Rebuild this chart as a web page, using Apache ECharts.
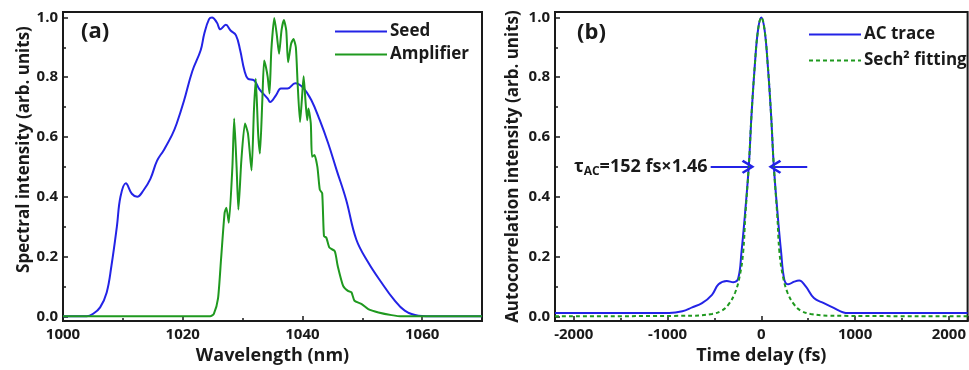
<!DOCTYPE html>
<html>
<head>
<meta charset="utf-8">
<script src="https://cdn.jsdelivr.net/npm/echarts@6/dist/echarts.min.js"></script>
<style>
  html, body { margin: 0; padding: 0; background: #fff; }
  #main { width: 969px; height: 370px; }
</style>
</head>
<body>
<div id="main"></div>
<script>
// (a) spectra, [wavelength nm, intensity]
const seedData = [
  [1000, 0], [1004, 0], [1005, 0.008], [1006.2, 0.03], [1007.3, 0.08], [1008.1, 0.17],
  [1009, 0.3], [1009.6, 0.4], [1010.5, 0.445], [1011.5, 0.41], [1012.4, 0.4],
  [1013.4, 0.42], [1014.6, 0.46], [1015.7, 0.52], [1016.8, 0.555], [1018.2, 0.606],
  [1019, 0.645], [1020.2, 0.72], [1021.6, 0.82], [1023, 0.89], [1023.6, 0.945],
  [1024.4, 0.994], [1024.9, 1.0], [1025.7, 0.983], [1026.3, 0.96], [1027.2, 0.975],
  [1028, 0.956], [1028.9, 0.94], [1029.6, 0.89], [1030.3, 0.823], [1030.9, 0.795],
  [1031.9, 0.79], [1032.8, 0.76], [1034.2, 0.728], [1034.6, 0.717], [1035.6, 0.74],
  [1036.4, 0.762], [1037.5, 0.762], [1038.8, 0.78], [1040.1, 0.765], [1041.5, 0.723],
  [1042.9, 0.656], [1044.3, 0.579], [1045.7, 0.49], [1047.3, 0.39], [1049, 0.257],
  [1051, 0.18], [1053.2, 0.113], [1055.2, 0.058], [1057.1, 0.019], [1059.4, 0.002],
  [1062.2, 0], [1070, 0]
];
const ampData = [
  [1000, 0], [1024.6, 0], [1025.2, 0.008], [1025.9, 0.06], [1026.4, 0.19], [1027, 0.346],
  [1027.3, 0.363], [1027.7, 0.313], [1028.3, 0.5], [1028.6, 0.662], [1029, 0.5],
  [1029.3, 0.357], [1029.8, 0.523], [1030.4, 0.645], [1030.9, 0.612], [1031.5, 0.488],
  [1031.9, 0.69], [1032.2, 0.795], [1032.6, 0.612], [1032.9, 0.545], [1033.3, 0.723],
  [1033.6, 0.856], [1033.9, 0.834], [1034.2, 0.8], [1034.5, 0.745], [1034.8, 0.889],
  [1035.3, 0.998], [1035.7, 0.945], [1036.1, 0.878], [1036.5, 0.956], [1036.9, 0.991],
  [1037.3, 0.956], [1037.6, 0.85], [1038.1, 0.911], [1038.5, 0.928], [1038.9, 0.9],
  [1039.2, 0.778], [1039.6, 0.65], [1039.9, 0.723], [1040.2, 0.803], [1040.5, 0.723],
  [1040.8, 0.656], [1041, 0.695], [1041.4, 0.645], [1041.6, 0.534], [1042, 0.54],
  [1042.5, 0.5], [1042.9, 0.424], [1043.3, 0.412], [1043.6, 0.268], [1044, 0.263],
  [1044.5, 0.23], [1045.4, 0.218], [1045.9, 0.168], [1046.8, 0.102], [1047.6, 0.085],
  [1048.2, 0.08], [1048.7, 0.052], [1049.9, 0.041], [1051, 0.024], [1052.7, 0.013],
  [1054.9, 0.004], [1056.6, 0], [1070, 0]
];

// (b) autocorrelation, [delay fs, intensity]
const acData = [
  [-2200, 0.011], [-982, 0.011], [-842, 0.017], [-737, 0.03], [-632, 0.044], [-526, 0.072],
  [-456, 0.107], [-368, 0.118], [-298, 0.114], [-246, 0.127], [-211, 0.216], [-175, 0.338],
  [-133, 0.504], [-105, 0.67], [-70, 0.836], [-35, 0.958], [0, 1.0], [35, 0.958], [70, 0.836],
  [105, 0.67], [133, 0.504], [175, 0.338], [211, 0.216], [246, 0.122], [288, 0.107],
  [351, 0.116], [404, 0.12], [474, 0.1], [561, 0.061], [667, 0.044], [772, 0.028],
  [877, 0.013], [930, 0.011], [2200, 0.011]
];
const fitData = [
  [-2200, 0], [-737, 0.002], [-526, 0.008], [-421, 0.019], [-351, 0.039], [-281, 0.078],
  [-228, 0.138], [-193, 0.216], [-170, 0.338], [-133, 0.504], [-105, 0.67], [-70, 0.836],
  [-35, 0.958], [0, 1.0], [35, 0.958], [70, 0.836], [105, 0.67], [133, 0.504], [170, 0.338],
  [193, 0.216], [228, 0.138], [281, 0.078], [351, 0.039], [421, 0.019], [526, 0.008],
  [737, 0.002], [2200, 0]
];
// FWHM arrows at half maximum
const arrowLeft = [[-540, 0.5], [-140, 0.5]];
const arrowRight = [[490, 0.5], [144, 0.5]];

const blue = '#2323e6';
const green = '#1f991f';
const ink = '#1a1a1a';
const font = 'Open Sans';

const chevron = 'path://M5,0 L10,8 L8.6,9.2 L5,3.2 L1.4,9.2 L0,8 Z';

function yAxisCfg(name, gridIndex, gap, pad) {
  return {
    type: 'value', gridIndex: gridIndex,
    min: -0.016, max: 1.018, splitNumber: 5,
    name: name, nameLocation: 'middle', nameGap: gap,
    nameTextStyle: { fontFamily: font, fontWeight: 'bold', fontSize: 17, color: ink, padding: pad },
    axisLine: { show: true, onZero: false, lineStyle: { color: ink, width: 2 } },
    axisTick: { inside: true, length: 5, lineStyle: { color: ink, width: 1.5 } },
    minorTick: { show: true, splitNumber: 2, length: 3, lineStyle: { color: ink, width: 1.5 } },
    splitLine: { show: false },
    axisLabel: {
      margin: 5, fontFamily: font, fontWeight: 'bold', fontSize: 15, color: ink,
      showMinLabel: false, showMaxLabel: false,
      formatter: v => v.toFixed(1)
    }
  };
}

function xAxisCfg(name, gridIndex, min, max, extra) {
  return Object.assign({
    type: 'value', gridIndex: gridIndex, min: min, max: max,
    name: name, nameLocation: 'middle', nameGap: 24,
    nameTextStyle: { fontFamily: font, fontWeight: 'bold', fontSize: 18, color: ink },
    axisLine: { show: true, onZero: false, lineStyle: { color: ink, width: 2 } },
    axisTick: { inside: true, length: 5, lineStyle: { color: ink, width: 1.5 } },
    minorTick: { show: true, splitNumber: 2, length: 3, lineStyle: { color: ink, width: 1.5 } },
    splitLine: { show: false },
    axisLabel: {
      margin: 6, fontFamily: font, fontWeight: 'bold', fontSize: 15, color: ink,
      showMaxLabel: false, formatter: v => String(v)
    }
  }, extra);
}

const chart = echarts.init(document.getElementById('main'), null, { renderer: 'canvas' });
const option = {
  backgroundColor: '#fff',
  animation: false,
  title: [
    { text: '(a)', left: 76, top: 16, textStyle: { fontFamily: font, fontWeight: 'bold', fontSize: 22, color: ink } },
    { text: '(b)', left: 572, top: 17, textStyle: { fontFamily: font, fontWeight: 'bold', fontSize: 22, color: ink } }
  ],
  legend: [
    {
      data: ['Seed', 'Amplifier'], orient: 'vertical', left: 329, top: 18,
      itemWidth: 52, itemHeight: 14, itemGap: 6, itemStyle: { opacity: 0 },
      textStyle: { fontFamily: font, fontWeight: 'bold', fontSize: 17, color: ink, padding: [0, 0, 0, -2] }
    },
    {
      data: ['AC trace', 'Sech² fitting'], orient: 'vertical', left: 803, top: 21,
      itemWidth: 52, itemHeight: 14, itemGap: 9, itemStyle: { opacity: 0 },
      textStyle: { fontFamily: font, fontWeight: 'bold', fontSize: 17, color: ink, padding: [0, 0, 0, -2] }
    }
  ],
  grid: [
    { left: 63, top: 12, width: 419, height: 310, show: true, borderColor: ink, borderWidth: 2 },
    { left: 555, top: 12, width: 418, height: 310, show: true, borderColor: ink, borderWidth: 2 }
  ],
  xAxis: [
    xAxisCfg('Wavelength (nm)', 0, 1000, 1070, { interval: 20 }),
    xAxisCfg('Time delay (fs)', 1, -2200, 2200, {
      splitNumber: 4,
      axisLabel: {
        margin: 6, fontFamily: font, fontWeight: 'bold', fontSize: 15, color: ink,
        showMinLabel: false, showMaxLabel: false, formatter: v => String(v)
      }
    })
  ],
  yAxis: [
    yAxisCfg('Spectral intensity (arb. units)', 0, 30, [0, 0, 0, 34]),
    yAxisCfg('Autocorrelation intensity (arb. units)', 1, 33, 0)
  ],
  series: [
    {
      name: 'Seed', type: 'line', xAxisIndex: 0, yAxisIndex: 0, data: seedData,
      showSymbol: false, symbol: 'none', smooth: 0.4,
      lineStyle: { color: blue, width: 2 }, itemStyle: { color: blue }
    },
    {
      name: 'Amplifier', type: 'line', xAxisIndex: 0, yAxisIndex: 0, data: ampData,
      showSymbol: false, symbol: 'none', smooth: 0.2,
      lineStyle: { color: green, width: 2 }, itemStyle: { color: green }
    },
    {
      name: 'AC trace', type: 'line', xAxisIndex: 1, yAxisIndex: 1, data: acData,
      showSymbol: false, symbol: 'none', smooth: 0.4,
      lineStyle: { color: blue, width: 2 }, itemStyle: { color: blue },
      markLine: {
        silent: true, animation: false,
        symbol: ['none', chevron], symbolSize: [14, 13],
        lineStyle: { color: blue, width: 2, type: 'solid' },
        label: { show: false },
        data: [
          [
            {
              coord: arrowLeft[0],
              label: {
                show: true, position: 'start', distance: 3,
                formatter: '{t|τ}{s|AC}{t|=152 fs×1.46}',
                rich: {
                  t: { fontFamily: font, fontWeight: 'bold', fontSize: 18, color: ink },
                  s: { fontFamily: font, fontWeight: 'bold', fontSize: 12, color: ink, verticalAlign: 'bottom', padding: [10, 0, 0, 0] }
                }
              }
            },
            { coord: arrowLeft[1] }
          ],
          [{ coord: arrowRight[0] }, { coord: arrowRight[1] }]
        ]
      }
    },
    {
      name: 'Sech² fitting', type: 'line', xAxisIndex: 1, yAxisIndex: 1, data: fitData,
      showSymbol: false, symbol: 'none', smooth: 0.4,
      lineStyle: { color: green, width: 2, type: [4, 3] }, itemStyle: { color: green }
    }
  ]
};
chart.setOption(option);
window.addEventListener('resize', function () {
  chart.resize();
});
</script>
</body>
</html>
